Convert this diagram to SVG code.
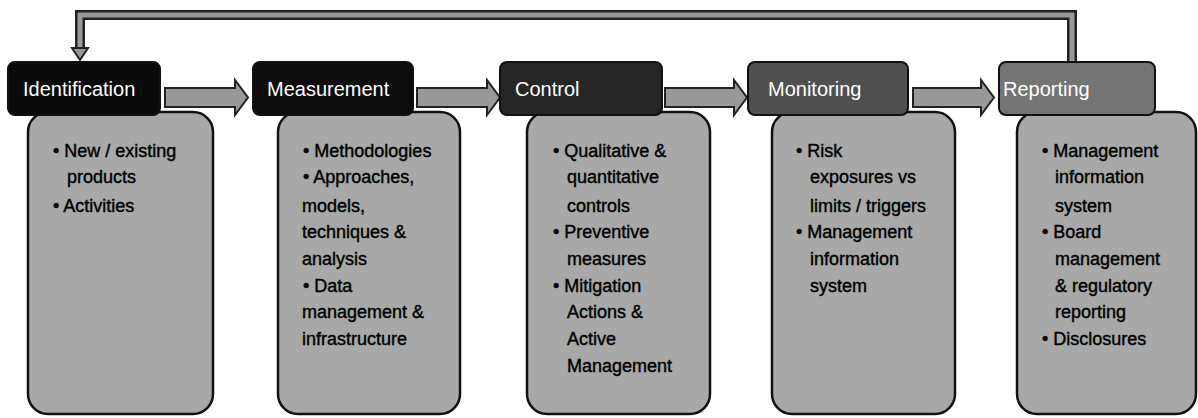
<svg xmlns="http://www.w3.org/2000/svg" width="1198" height="418" viewBox="0 0 1198 418">
<style>
.body{fill:#a8a8a8;stroke:#111;stroke-width:2.5}
.hdr{stroke:#111;stroke-width:2}
.ht{font-family:"Liberation Sans",Arial,sans-serif;font-size:20px;fill:#fff}
.bt{font-family:"Liberation Sans",Arial,sans-serif;font-size:18px;fill:#000;stroke:#000;stroke-width:0.4}
.arr{fill:#999;stroke:#222;stroke-width:2}
.fb-out{fill:none;stroke:#222;stroke-width:10}
.fb-in{fill:none;stroke:#999;stroke-width:5}
</style>
<rect width="1198" height="418" fill="#fff"/>
<g id="connectors">
  <path class="fb-out" d="M1072,62 V15 H80 V50"/>
  <path class="fb-in" d="M1072,62 V15 H80 V50"/>
  <polygon class="arr" points="72,48 88,48 80,60"/>
  <polygon class="arr" points="165,88 235,88 235,80 248,97.5 235,115 235,107 165,107"/>
  <polygon class="arr" points="417,88 487,88 487,80 500,97.5 487,115 487,107 417,107"/>
  <polygon class="arr" points="665,88 734,88 734,80 747,97.5 734,115 734,107 665,107"/>
  <polygon class="arr" points="913,88 981,88 981,80 994,97.5 981,115 981,107 913,107"/>
</g>
<g id="identification">
  <rect class="body" x="28" y="112" width="185" height="302" rx="20"/>
  <rect class="hdr" x="8" y="62" width="152" height="53" rx="7" fill="#0a0a0a"/>
  <text class="ht" x="23" y="96">Identification</text>
  <text class="bt" x="53" y="157">• New / existing</text>
  <text class="bt" x="67" y="183">products</text>
  <text class="bt" x="53" y="212">• Activities</text>
</g>
<g id="measurement">
  <rect class="body" x="278" y="112" width="182" height="302" rx="20"/>
  <rect class="hdr" x="253" y="62" width="160" height="53" rx="7" fill="#0d0d0d"/>
  <text class="ht" x="267" y="96">Measurement</text>
  <text class="bt" x="303" y="157">• Methodologies</text>
  <text class="bt" x="303" y="183">• Approaches,</text>
  <text class="bt" x="302" y="212">models,</text>
  <text class="bt" x="302" y="238">techniques &amp;</text>
  <text class="bt" x="302" y="265">analysis</text>
  <text class="bt" x="303" y="292">• Data</text>
  <text class="bt" x="302" y="318">management &amp;</text>
  <text class="bt" x="302" y="345">infrastructure</text>
</g>
<g id="control">
  <rect class="body" x="527" y="112" width="183" height="302" rx="20"/>
  <rect class="hdr" x="500" y="62" width="162" height="53" rx="7" fill="#262626"/>
  <text class="ht" x="515" y="96">Control</text>
  <text class="bt" x="553" y="157">• Qualitative &amp;</text>
  <text class="bt" x="567" y="183">quantitative</text>
  <text class="bt" x="567" y="212">controls</text>
  <text class="bt" x="553" y="238">• Preventive</text>
  <text class="bt" x="567" y="265">measures</text>
  <text class="bt" x="553" y="292">• Mitigation</text>
  <text class="bt" x="567" y="318">Actions &amp;</text>
  <text class="bt" x="567" y="345">Active</text>
  <text class="bt" x="567" y="372">Management</text>
</g>
<g id="monitoring">
  <rect class="body" x="772" y="112" width="183" height="302" rx="20"/>
  <rect class="hdr" x="748" y="62" width="160" height="53" rx="7" fill="#505050"/>
  <text class="ht" x="768" y="96">Monitoring</text>
  <text class="bt" x="796" y="157">• Risk</text>
  <text class="bt" x="810" y="183">exposures vs</text>
  <text class="bt" x="810" y="212">limits / triggers</text>
  <text class="bt" x="796" y="238">• Management</text>
  <text class="bt" x="810" y="265">information</text>
  <text class="bt" x="810" y="292">system</text>
</g>
<g id="reporting">
  <rect class="body" x="1017" y="112" width="179" height="302" rx="20"/>
  <rect class="hdr" x="999" y="62" width="156" height="53" rx="7" fill="#747474"/>
  <text class="ht" x="1003" y="96">Reporting</text>
  <text class="bt" x="1042" y="157">• Management</text>
  <text class="bt" x="1055" y="183">information</text>
  <text class="bt" x="1055" y="212">system</text>
  <text class="bt" x="1042" y="238">• Board</text>
  <text class="bt" x="1055" y="265">management</text>
  <text class="bt" x="1055" y="292">&amp; regulatory</text>
  <text class="bt" x="1055" y="318">reporting</text>
  <text class="bt" x="1042" y="345">• Disclosures</text>
</g>
</svg>
